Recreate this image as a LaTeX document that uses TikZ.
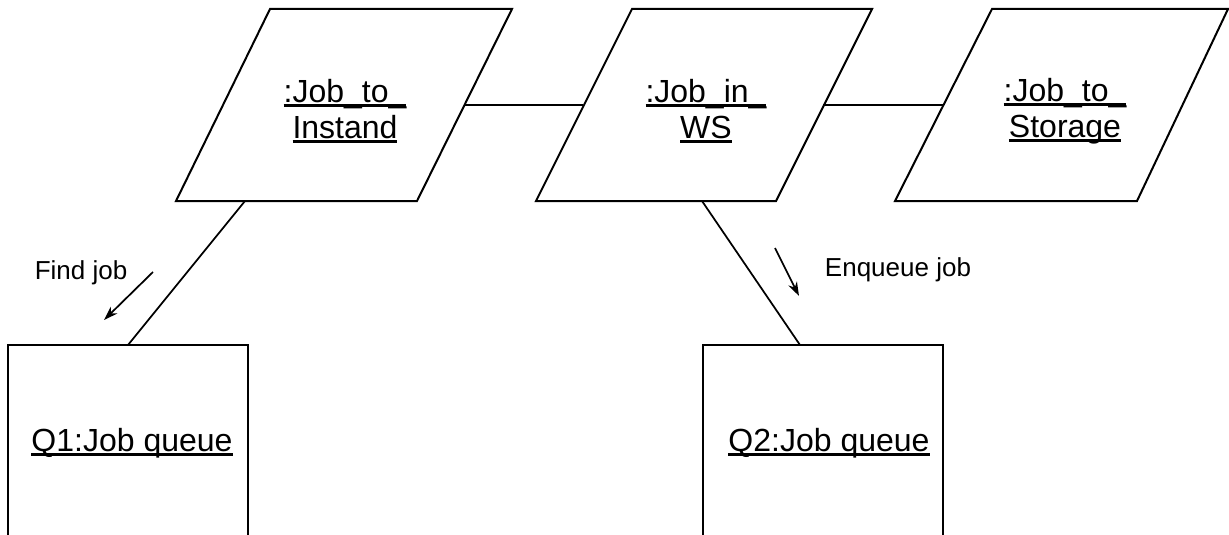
\documentclass[tikz,border=0pt]{standalone}
\usepackage{fontspec}
\setmainfont{Liberation Sans}
\usetikzlibrary{arrows.meta}
% underlined text at a fixed depth below the baseline
\newsavebox\ulinebox
\newcommand\objline[1]{\sbox\ulinebox{#1}\rlap{\rule[-3.2pt]{\wd\ulinebox}{1.8pt}}\usebox\ulinebox}
\begin{document}
\begin{tikzpicture}[x=0.75pt,y=-0.75pt,
  shapeline/.style={draw=black,line width=1.5pt,line join=miter},
  link/.style={draw=black,line width=1.3pt},
  dirarrow/.style={draw=black,line width=1.3pt,-{Stealth[length=10.5pt,width=7pt]}},
  objtext/.style={align=center,inner sep=0pt,font=\fontsize{24pt}{27pt}\selectfont},
  msgtext/.style={inner sep=0pt,font=\fontsize{19.5pt}{23pt}\selectfont}]
\useasboundingbox (0,0) rectangle (1229,535);

% object parallelograms
\draw[shapeline] (270,9) coordinate (a1) -- (512,9) coordinate (a2) -- (417,201) coordinate (a3) -- (176,201) coordinate (a4) -- cycle;
\draw[shapeline] (632,9) coordinate (b1) -- (872,9) coordinate (b2) -- (776,201) coordinate (b3) -- (536,201) coordinate (b4) -- cycle;
\draw[shapeline] (992,9) coordinate (c1) -- (1228,9) coordinate (c2) -- (1137,201) coordinate (c3) -- (895,201) coordinate (c4) -- cycle;

\node[objtext] (instand) at (345,111) {\objline{:Job\_to\_}\\\objline{Instand}};
\node[objtext] (ws) at (706,111) {\objline{:Job\_in\_}\\\objline{WS}};
\node[objtext] (storage) at (1065,111) {\objline{:Job\_to\_}\\\objline{Storage}};

% queue boxes (open at the bottom)
\draw[shapeline] (8,560) coordinate (q1bl) -- (8,345) coordinate (q1tl) -- (248,345) coordinate (q1tr) -- (248,560) coordinate (q1br);
\draw[shapeline] (703,560) coordinate (q2bl) -- (703,345) coordinate (q2tl) -- (943,345) coordinate (q2tr) -- (943,560) coordinate (q2br);

\node[objtext] (q1) at (132,443) {\objline{Q1:Job queue}};
\node[objtext] (q2) at (829,443) {\objline{Q2:Job queue}};

% links between objects
\coordinate (l1a) at (465,105);
\coordinate (l1b) at (583,105);
\coordinate (l2a) at (823,105);
\coordinate (l2b) at (943,105);
\coordinate (l3a) at (245,201);
\coordinate (l3b) at (128,345);
\coordinate (l4a) at (702,201);
\coordinate (l4b) at (800,345);
\draw[link] (l1a) -- (l1b);
\draw[link] (l2a) -- (l2b);
\draw[link] (l3a) -- (l3b);
\draw[link] (l4a) -- (l4b);

% messages
\coordinate (m1a) at (153,272);
\coordinate (m1b) at (104,320);
\coordinate (m2a) at (775,248);
\coordinate (m2b) at (799,296);
\draw[dirarrow] (m1a) -- (m1b);
\draw[dirarrow] (m2a) -- (m2b);
\node[msgtext] (findjob) at (81,273) {Find job};
\node[msgtext] (enqueue) at (898,270) {Enqueue job};
\end{tikzpicture}
\end{document}
